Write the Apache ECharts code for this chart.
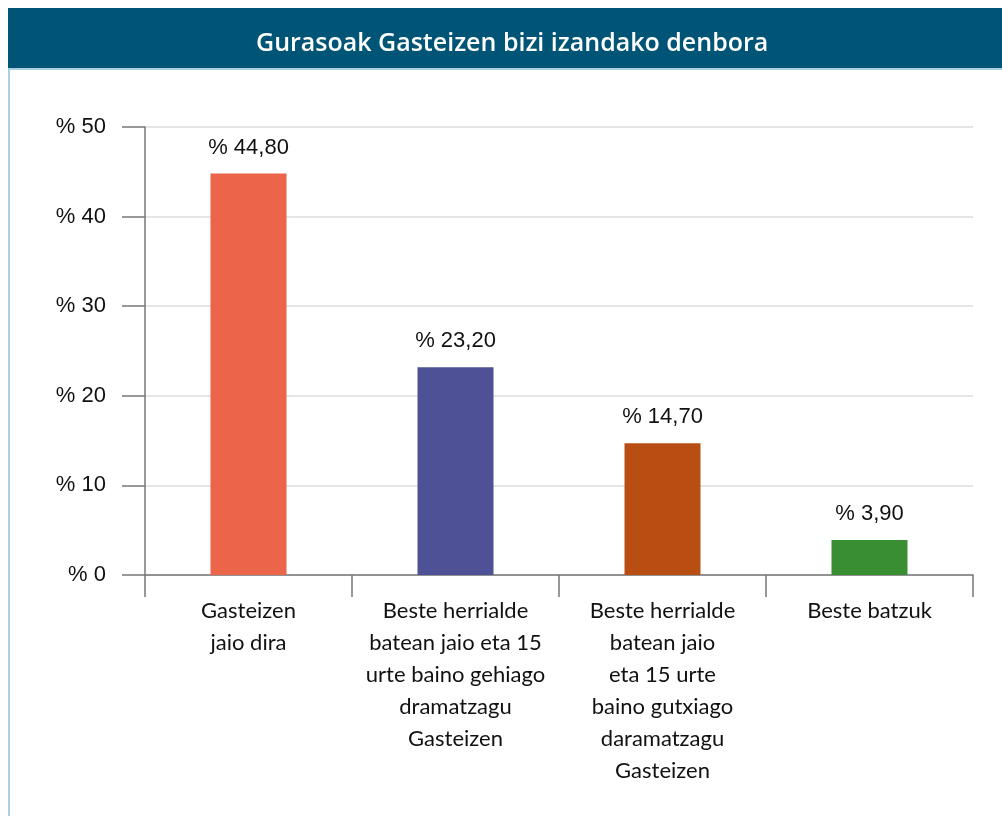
<!DOCTYPE html>
<html>
<head>
<meta charset="utf-8">
<script src="https://cdn.jsdelivr.net/npm/echarts@6/dist/echarts.min.js"></script>
<style>
  html, body { margin: 0; padding: 0; background: #fff; }
  #main { width: 1002px; height: 816px; }
</style>
</head>
<body>
<div id="main"></div>
<script>
// datuak
var categories = [
    'Gasteizen\njaio dira',
    'Beste herrialde\nbatean jaio eta 15\nurte baino gehiago\ndramatzagu\nGasteizen',
    'Beste herrialde\nbatean jaio\neta 15 urte\nbaino gutxiago\ndaramatzagu\nGasteizen',
    'Beste batzuk'
];
var values = [44.8, 23.2, 14.7, 3.9];
var barColors = ['#EC6449', '#4F5196', '#B94E13', '#388E31'];
var titleText = 'Gurasoak Gasteizen bizi izandako denbora';

var data = [];
for (var i = 0; i < values.length; i++) {
    data.push({value: values[i], itemStyle: {color: barColors[i]}});
}

var option = {
    animation: false,
    backgroundColor: '#fff',
    graphic: [
        // goiburuko banda
        {type: 'rect', left: 8, top: 8, shape: {width: 994, height: 60}, style: {fill: '#005577'}},
        {type: 'rect', left: 8, top: 68, shape: {width: 994, height: 2}, style: {fill: '#a9cfe2'}},
        {type: 'rect', left: 8, top: 68, shape: {width: 2, height: 748}, style: {fill: '#a9cfe2'}},
        {
            type: 'text', left: 256, top: 31,
            style: {text: titleText, fill: '#fff', font: '600 25px "Open Sans"'}
        }
    ],
    grid: {left: 145, right: 29, top: 127, bottom: 241},
    xAxis: {
        type: 'category',
        data: categories,
        axisLine: {lineStyle: {color: '#777', width: 1.5}},
        axisTick: {show: true, length: 22, lineStyle: {color: '#777', width: 1.5}},
        axisLabel: {
            color: '#111',
            fontFamily: 'Lato',
            fontSize: 22,
            lineHeight: 32,
            margin: 20,
            interval: 0
        }
    },
    yAxis: {
        type: 'value',
        min: 0,
        max: 50,
        interval: 10,
        axisLine: {show: true, lineStyle: {color: '#777', width: 1.5}},
        axisTick: {show: true, inside: false, length: 23, lineStyle: {color: '#777', width: 1.5}},
        splitLine: {lineStyle: {color: '#ddd', width: 1.5}},
        axisLabel: {
            color: '#111',
            fontFamily: 'Liberation Sans',
            fontSize: 22,
            margin: 39,
            formatter: function (v) { return '% ' + v; }
        }
    },
    series: [{
        type: 'bar',
        data: data,
        barWidth: 76,
        label: {
            show: true,
            position: 'top',
            distance: 15,
            color: '#111',
            fontFamily: 'Liberation Sans',
            fontSize: 22,
            formatter: function (p) { return '% ' + p.value.toFixed(2).replace('.', ','); }
        }
    }]
};

var myChart = echarts.init(document.getElementById('main'));
myChart.setOption(option);
</script>
</body>
</html>
